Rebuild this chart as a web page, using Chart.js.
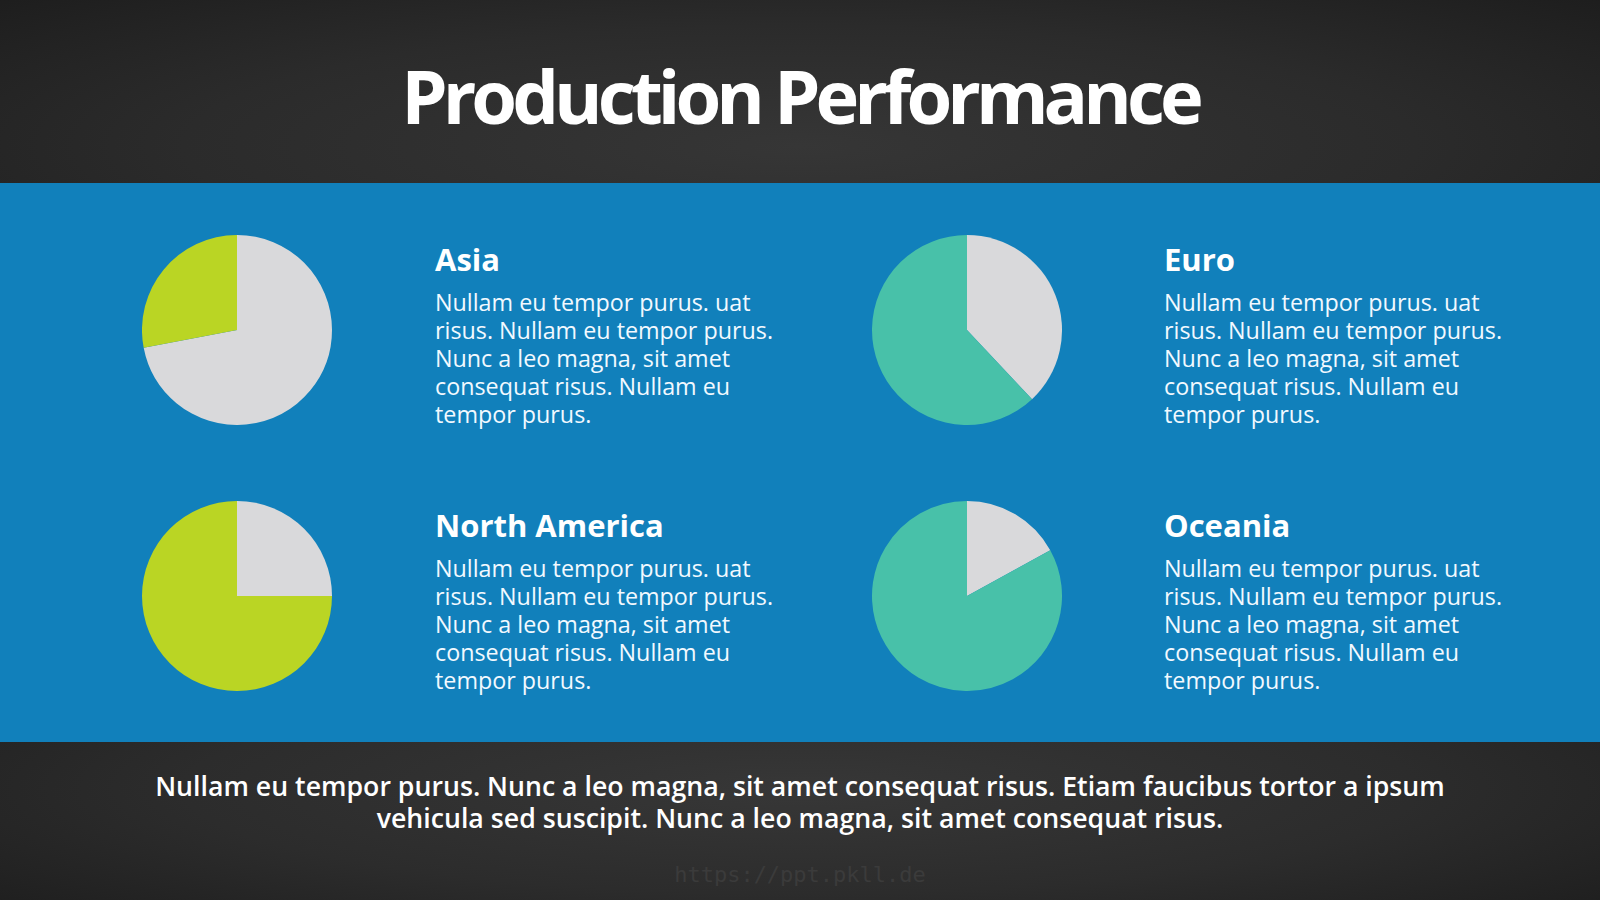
<!DOCTYPE html>
<html>
<head>
<meta charset="utf-8">
<script src="https://cdn.jsdelivr.net/npm/chart.js@4"></script>
<style>
  html, body { margin: 0; padding: 0; }
  body {
    width: 1600px; height: 900px; position: relative; overflow: hidden;
    font-family: "Open Sans", sans-serif; color: #fff;
    background: radial-gradient(ellipse at 50% 50%, #383838 0%, #2c2c2c 50%, #1c1c1c 100%);
  }
  .header {
    position: absolute; left: 0; top: 0; width: 1600px; height: 183px;
    background: radial-gradient(ellipse 70% 120% at 50% 80%, #363636 0%, #2b2b2b 55%, #1d1d1d 100%);
  }
  .title {
    position: absolute; left: 0; width: 1600px; top: 46px; text-align: center;
    font-size: 74px; font-weight: 700; letter-spacing: -5px; line-height: 100px;
  }
  .band {
    position: absolute; left: 0; top: 183px; width: 1600px; height: 559px;
    background: #1180bb;
  }
  .footer {
    position: absolute; left: 0; top: 742px; width: 1600px; height: 158px;
    background: radial-gradient(ellipse 70% 120% at 50% 30%, #373737 0%, #2c2c2c 55%, #1d1d1d 100%);
  }
  .pie { position: absolute; }
  .head {
    position: absolute; font-size: 31px; font-weight: 700; line-height: 36px; white-space: nowrap;
  }
  .body {
    position: absolute; font-size: 23.3px; line-height: 28px; white-space: nowrap; color: #f2f9ff;
  }
  .note {
    position: absolute; left: 0; width: 1600px; text-align: center; white-space: nowrap;
    font-size: 26.7px; font-weight: 600; line-height: 30px;
  }
  .mark {
    position: absolute; left: 0; width: 1600px; top: 862px; text-align: center;
    font-family: "DejaVu Sans Mono", monospace; font-size: 22px; color: #3b3b3b;
  }
</style>
</head>
<body>
<div class="header"></div>
<div class="band"></div>
<div class="footer"></div>
<div class="title">Production Performance</div>

<canvas id="pie0" class="pie" width="190" height="190" style="left:142px;top:235px"></canvas>
<canvas id="pie1" class="pie" width="190" height="190" style="left:872px;top:235px"></canvas>
<canvas id="pie2" class="pie" width="190" height="190" style="left:142px;top:501px"></canvas>
<canvas id="pie3" class="pie" width="190" height="190" style="left:872px;top:501px"></canvas>

<div id="blocks"></div>

<div class="note" style="top:771px">Nullam eu tempor purus. Nunc a leo magna, sit amet consequat risus. Etiam faucibus tortor a ipsum</div>
<div class="note" style="top:803px">vehicula sed suscipit. Nunc a leo magna, sit amet consequat risus.</div>
<div class="mark">https://ppt.pkll.de</div>

<script>
const regions = ["Asia", "Euro", "North America", "Oceania"];
const share = [28, 62, 75, 83];
const rest = [72, 38, 25, 17];
const sliceLabels = ["Other", "Production"];
const accent = ["#bad524", "#48c1a9", "#bad524", "#48c1a9"];

const bodyText = "Nullam eu tempor purus. uat<br>risus. Nullam eu tempor purus.<br>Nunc a leo magna, sit amet<br>consequat risus. Nullam eu<br>tempor purus.";
const textPos = [[435, 241], [1164, 241], [435, 507], [1164, 507]];

const blocks = document.getElementById("blocks");
regions.forEach(function (name, i) {
  const h = document.createElement("div");
  h.className = "head";
  h.style.left = textPos[i][0] + "px";
  h.style.top = textPos[i][1] + "px";
  h.textContent = name;
  blocks.appendChild(h);
  const b = document.createElement("div");
  b.className = "body";
  b.style.left = textPos[i][0] + "px";
  b.style.top = (textPos[i][1] + 47) + "px";
  b.innerHTML = bodyText;
  blocks.appendChild(b);
});

regions.forEach(function (name, i) {
  new Chart(document.getElementById("pie" + i), {
    type: "pie",
    data: {
      labels: sliceLabels,
      datasets: [{
        label: name,
        data: [rest[i], share[i]],
        backgroundColor: ["#d9d9db", accent[i]],
        borderWidth: 0,
      }],
    },
    options: {
      responsive: false,
      animation: false,
      devicePixelRatio: 1,
      layout: { padding: 0 },
      plugins: {
        legend: { display: false },
        tooltip: { enabled: false },
      },
    },
  });
});
</script>
</body>
</html>
